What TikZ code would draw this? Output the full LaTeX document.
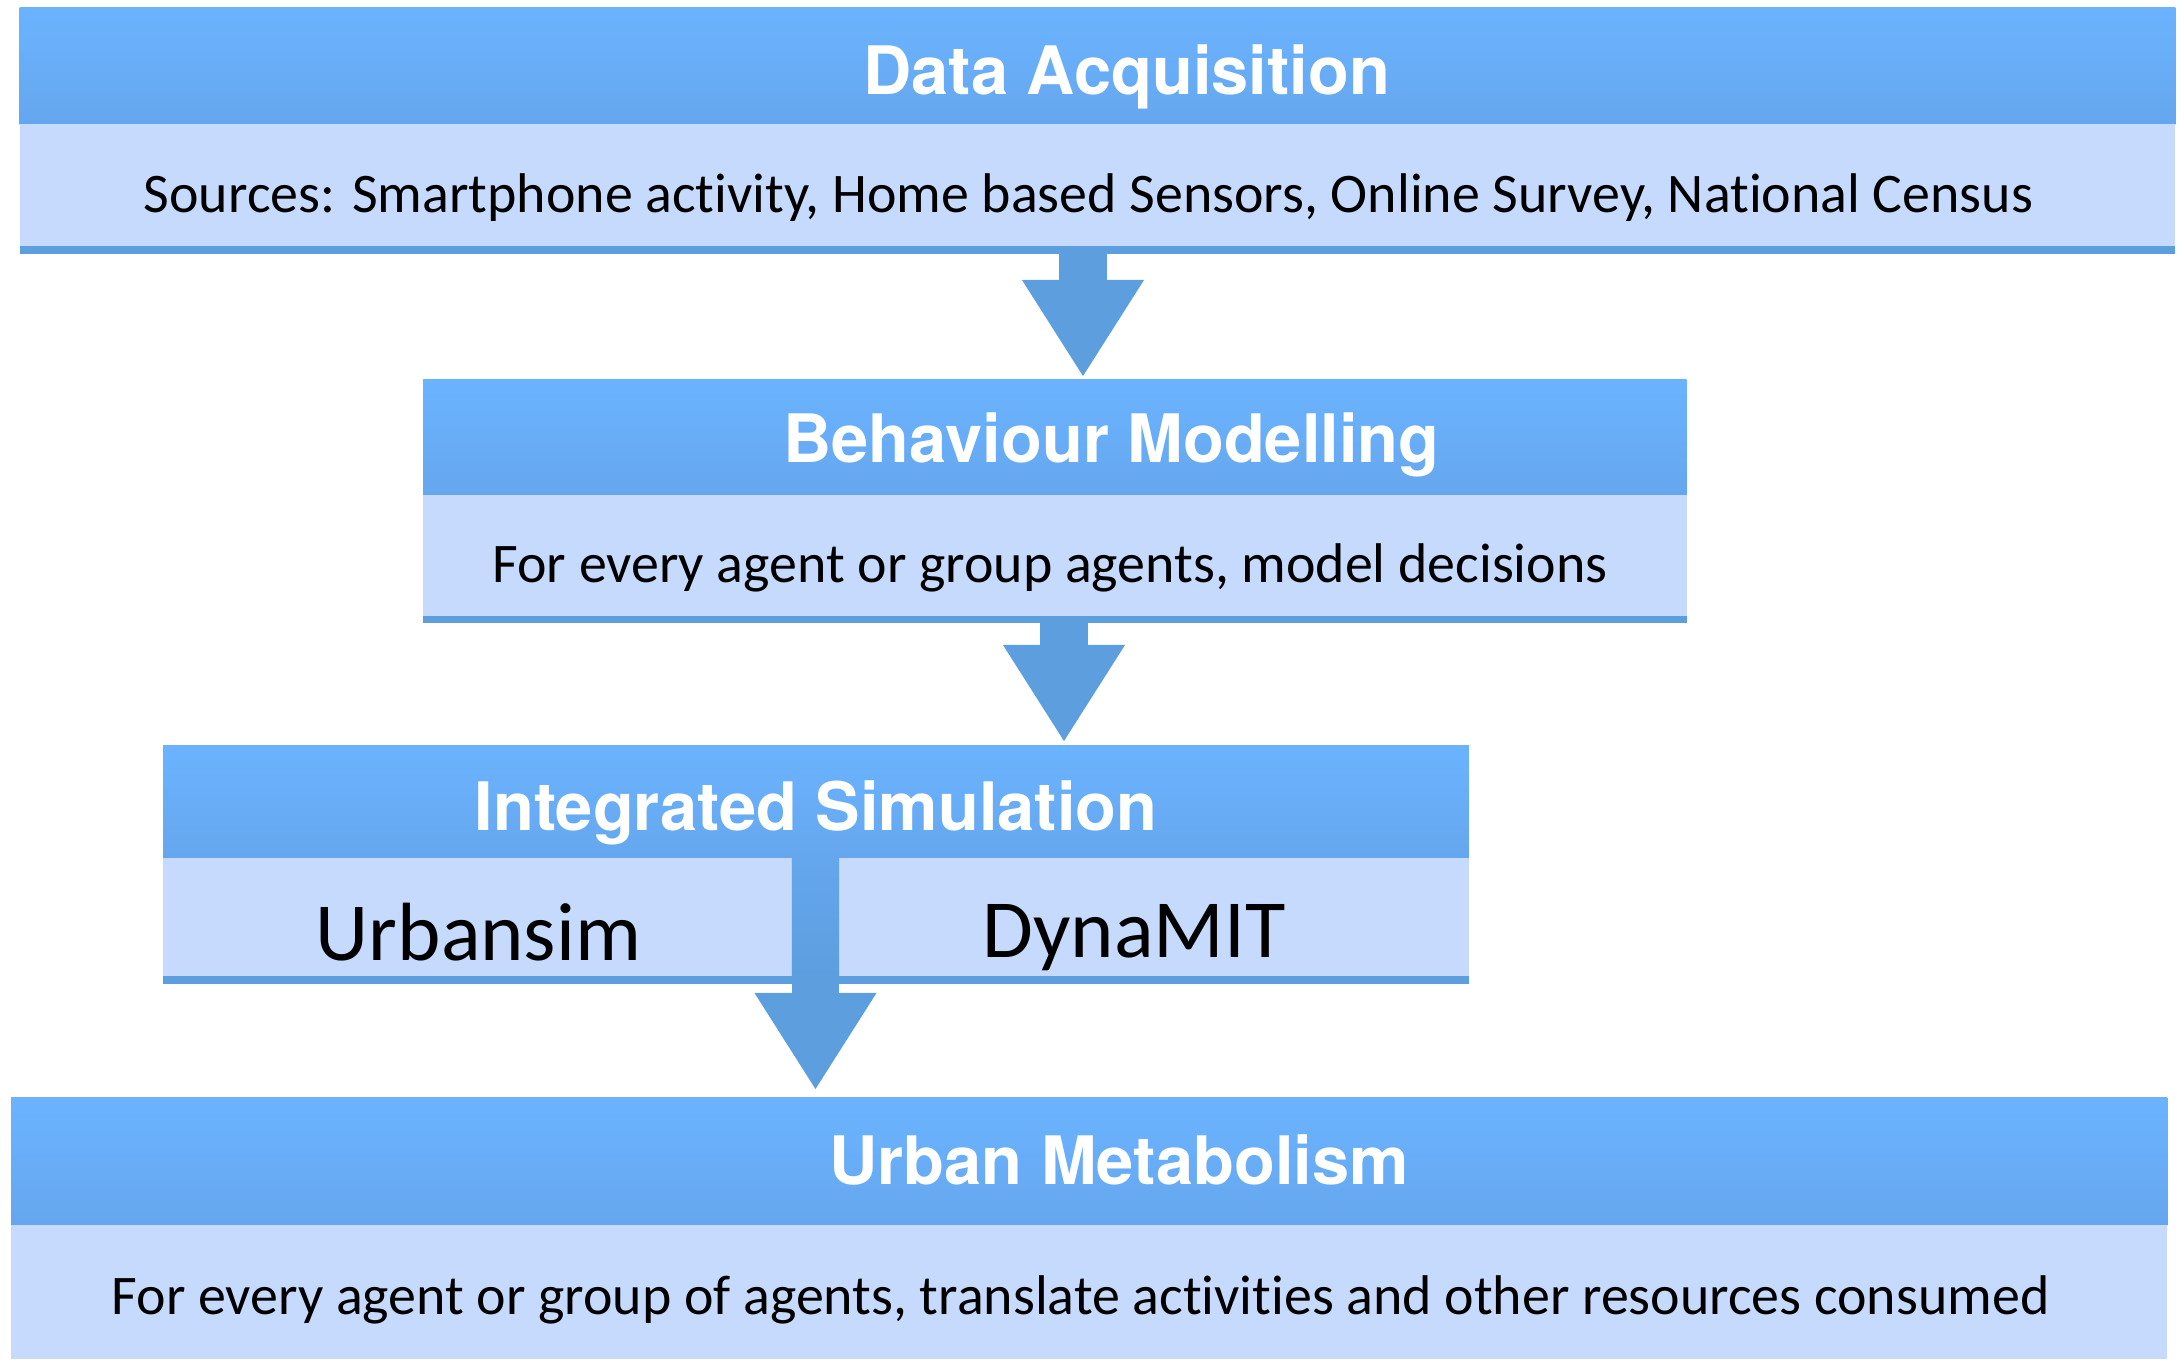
\documentclass[tikz,border=0pt]{standalone}
\usepackage{fontspec}
\setmainfont[Ligatures=NoCommon]{Carlito}
\newfontfamily\hdrfont{TeX Gyre Heros}
\usepackage{tikz}
\usetikzlibrary{positioning}
\usetikzlibrary{arrows.meta}
\definecolor{hdrtop}{RGB}{107,179,255}
\definecolor{hdrbot}{RGB}{101,167,238}
\definecolor{bodyfill}{RGB}{197,218,253}
\definecolor{edgeblue}{RGB}{92,158,222}
\tikzset{
  hdr/.style={rectangle, inner sep=0pt, outer sep=0pt, anchor=north west, top color=hdrtop, bottom color=hdrbot},
  bodybox/.style={rectangle, inner sep=0pt, outer sep=0pt, anchor=north west, fill=bodyfill},
  hdrtext/.style={anchor=base, inner sep=0pt, text=white, font=\hdrfont\bfseries\fontsize{19}{23}\selectfont},
  bodytext/.style={anchor=base, inner sep=0pt, font=\fontsize{15.9}{19}\selectfont},
  bigtext/.style={anchor=base, inner sep=0pt, font=\fontsize{23.5}{28}\selectfont},
  flow/.style={draw=edgeblue, line width=0.47cm, -{Triangle[width=1.22cm,length=0.96cm,line width=0pt]}},
}

\begin{document}
\begin{tikzpicture}[x=0.01cm, y=-0.01cm]
\useasboundingbox (0,0) rectangle (2184,1359);
% data acquisition
\node[hdr, minimum width=21.545cm, minimum height=1.165cm] (acq) at (19.5,7.5) {};
\node[bodybox, minimum width=21.545cm, minimum height=1.22cm] (acqbody) at (acq.south west) {};
\fill[edgeblue] (acqbody.south west) rectangle ([yshift=-0.08cm]acqbody.south east);
\node[hdrtext] (acqtitle) at (1126.5,94) {Data Acquisition};
\node[bodytext] (acqtext) at (1088.5,212) {Sources: Smartphone activity, Home based Sensors, Online Survey, National Census};
% behaviour modelling
\node[hdr, minimum width=12.63cm, minimum height=1.16cm] (behav) at (423,379) {};
\node[bodybox, minimum width=12.63cm, minimum height=1.21cm] (behavbody) at (behav.south west) {};
\fill[edgeblue] (behavbody.south west) rectangle ([yshift=-0.07cm]behavbody.south east);
\node[hdrtext] (behavtitle) at (1111.5,462) {Behaviour Modelling};
\node[bodytext] (behavtext) at (1050,582) {For every agent or group agents, model decisions};
% integrated simulation
\node[hdr, minimum width=13.05cm, minimum height=1.13cm] (sim) at (163,745) {};
\node[bodybox, minimum width=13.05cm, minimum height=1.18cm] (simbody) at (sim.south west) {};
\fill[edgeblue] (simbody.south west) rectangle ([yshift=-0.08cm]simbody.south east);
\node[hdrtext] (simtitle) at (816,830) {Integrated Simulation};
\node[bigtext] (urbansim) at (478.5,960) {Urbansim};
\node[bigtext] (dynamit) at (1134,957) {DynaMIT};
% urban metabolism
\node[hdr, minimum width=21.55cm, minimum height=1.28cm] (metab) at (11,1097) {};
\node[bodybox, minimum width=21.55cm, minimum height=1.34cm] (metabbody) at (metab.south west) {};
\node[hdrtext] (metabtitle) at (1119,1184) {Urban Metabolism};
\node[bodytext] (metabtext) at (1080.5,1314) {For every agent or group of agents, translate activities and other resources consumed};
% arrows
\coordinate (a1) at (1083,0);
\coordinate (a2) at (1064,0);
\coordinate (a3) at (815.5,0);
\draw[flow] (a1 |- acqbody.south) -- ([yshift=0.03cm]a1 |- behav.north);
\draw[flow] (a2 |- behavbody.south) -- ([yshift=0.04cm]a2 |- sim.north);
\draw[flow] (a3 |- sim.south) -- ([yshift=0.08cm]a3 |- metab.north);
\shade[top color=hdrbot, bottom color=edgeblue] ([xshift=-0.235cm]a3 |- sim.south) rectangle ([xshift=0.235cm]a3 |- simbody.south);
\end{tikzpicture}
\end{document}
